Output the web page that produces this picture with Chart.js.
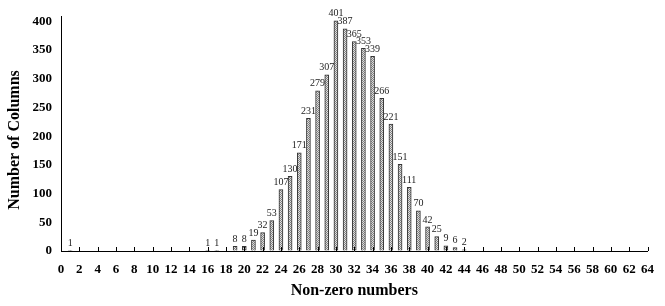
<!DOCTYPE html>
<html><head><meta charset="utf-8">
<script src="https://cdn.jsdelivr.net/npm/chart.js@4"></script>
<style>html,body{margin:0;padding:0;background:#fff}#wrap{width:665px;height:306px}</style>
</head><body><div id="wrap"><canvas id="c" width="665" height="306"></canvas></div>
<script>
const positions = [1, 16, 17, 19, 20, 21, 22, 23, 24, 25, 26, 27, 28, 29, 30, 31, 32, 33, 34, 35, 36, 37, 38, 39, 40, 41, 42, 43, 44];
const counts    = [1, 1, 1, 8, 8, 19, 32, 53, 107, 130, 171, 231, 279, 307, 401, 387, 365, 353, 339, 266, 221, 151, 111, 70, 42, 25, 9, 6, 2];
const yTickValues = [0, 50, 100, 150, 200, 250, 300, 350, 400];
const xTitle = "Non-zero numbers";
const yTitle = "Number of Columns";

function makePattern(){
  const p = document.createElement('canvas'); p.width = 2; p.height = 2;
  const g = p.getContext('2d');
  g.fillStyle = '#e0e0e0'; g.fillRect(0,0,2,2);
  g.fillStyle = '#808080'; g.fillRect(0,0,1,1); g.fillRect(1,1,1,1);
  return document.getElementById('c').getContext('2d').createPattern(p,'repeat');
}

const labelPlugin = {
  id:'labels',
  afterDatasetsDraw(chart){
    const ctx = chart.ctx; const meta = chart.getDatasetMeta(0);
    ctx.save();
    ctx.font = '10px "Liberation Serif"'; ctx.fillStyle = '#222';
    ctx.textAlign = 'center'; ctx.textBaseline = 'bottom';
    meta.data.forEach((el,i)=>{ ctx.fillText(String(counts[i]), el.x, el.y - 2); });
    const xs = chart.scales.x; const yb = chart.scales.y.getPixelForValue(0);
    ctx.strokeStyle = '#000'; ctx.lineWidth = 1;
    xs.ticks.forEach(t=>{ const px = Math.round(xs.getPixelForValue(t.value))+0.5; ctx.beginPath(); ctx.moveTo(px, yb); ctx.lineTo(px, yb-4); ctx.stroke(); });
    ctx.font = 'bold 16px "Liberation Serif"'; ctx.fillStyle = '#000';
    ctx.translate(15, 140); ctx.rotate(-Math.PI/2); ctx.textBaseline = 'middle';
    ctx.fillText(yTitle, 0, 0);
    ctx.restore();
  }
};

new Chart(document.getElementById('c'), {
  type:'bar',
  data:{ datasets:[{ data: positions.map((p,i)=>({x:p, y:counts[i]})), backgroundColor: makePattern(), borderColor:'#333', borderWidth:1, barThickness:4 }]},
  options:{
    responsive:false, animation:false,
    layout:{ padding:{ left:0, right:17, top:12, bottom:0 } },
    plugins:{ legend:{display:false}, tooltip:{enabled:false} },
    scales:{
      x:{ type:'linear', min:0, max:64, offset:false,
          ticks:{ stepSize:2, autoSkip:false, maxRotation:0, color:'#000', padding:11, font:{family:'"Liberation Serif"', weight:'bold', size:13} },
          grid:{ display:true, drawOnChartArea:false, drawTicks:false },
          border:{ display:true, color:'#000', width:1 },
          title:{ display:true, text:xTitle, color:'#000', font:{family:'"Liberation Serif"', weight:'bold', size:16}, padding:{top:0,bottom:6} },
          afterFit(s){ s.height = 55; } },
      y:{ min:0, max:408,
          ticks:{ color:'#000', padding:9, font:{family:'"Liberation Serif"', weight:'bold', size:13} },
          afterBuildTicks(s){ s.ticks = yTickValues.map(v=>({value:v})); },
          grid:{ display:true, drawOnChartArea:false, drawTicks:false },
          border:{ display:true, color:'#000', width:1 },
          afterFit(s){ s.width = 61; } }
    }
  },
  plugins:[labelPlugin]
});
</script></body></html>
